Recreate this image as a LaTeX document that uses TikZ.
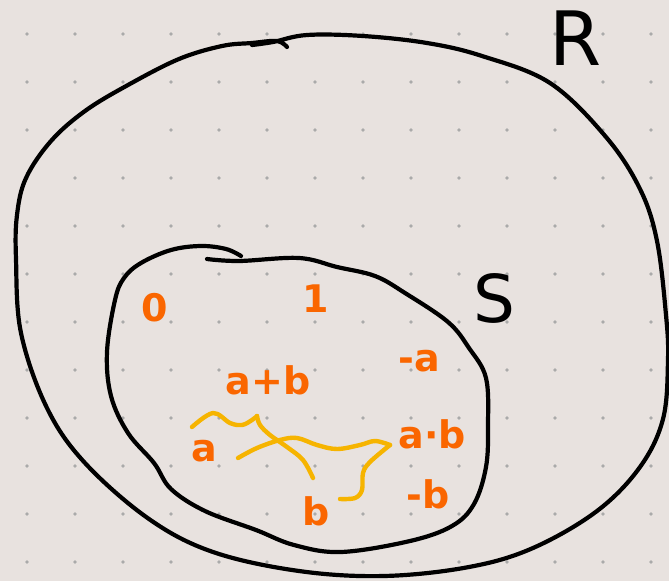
\documentclass[tikz,border=0pt]{standalone}
\usepackage{fontspec}
\newfontfamily\handfont{DejaVu Sans}
\definecolor{bgc}{RGB}{232,226,223}
\definecolor{dotc}{RGB}{170,170,170}
\definecolor{orng}{RGB}{250,102,0}
\definecolor{yllw}{RGB}{246,180,0}
\tikzset{
  outline/.style={black, line width=4.2pt, line cap=round, line join=round},
  squiggle/.style={yllw, line width=4.4pt, line cap=round, line join=round},
  elem/.style={text=orng, inner sep=0pt, font=\handfont\bfseries\fontsize{38}{42}\selectfont},
  setname/.style={text=black, inner sep=0pt, font=\handfont},
}
\begin{document}
\begin{tikzpicture}[x=1pt,y=-1pt]
\fill[bgc] (0,0) rectangle (669,581);
\useasboundingbox (0,0) rectangle (669,581);
% dot grid
\foreach \i in {0,...,13}{
  \foreach \j in {0,...,11}{
    \fill[dotc] ({27+48*\i},{34+48*\j}) circle (1.8);
  }
}
% outer set R
\draw[outline] plot[smooth, tension=0.6] coordinates {
 (252,45) (273,42) (307,35) (363,36) (427,43) (482,56) (550,83) (606,137)
 (640,189) (657,241) (666,315) (668,360) (663,419) (640,467) (597,511)
 (533,548) (469,567) (384,576) (299,571) (213,552) (149,519) (85,463)
 (47,408) (21,333) (16,259) (17,215) (26,178) (51,141) (85,111) (128,85)
 (179,59) (222,46) (252,43) (277,41) (287,47)};
% inner set S
\draw[outline] plot[smooth, tension=0.6] coordinates {
 (207,259) (239,261) (299,258) (337,267) (375,276) (405,293) (448,322)
 (469,348) (486,378) (488,426) (486,467) (474,504) (452,526) (410,541)
 (341,552) (294,545) (256,530) (205,511) (171,489) (154,463) (128,433)
 (111,396) (107,352) (115,300) (124,278) (141,263) (171,250) (201,246)
 (226,249) (241,256)};
% yellow squiggles
\draw[squiggle] plot[smooth, tension=0.6] coordinates {
 (192,427) (213,413) (230,423) (242,425) (252,420) (257,416)};
\draw[squiggle] plot[smooth, tension=0.6] coordinates {
 (257,416) (260,425) (270,435) (287,447) (303,460) (313,478)};
\draw[squiggle] plot[smooth, tension=0.6] coordinates {
 (238,458) (257,448) (280,440) (297,438) (317,445) (337,449) (360,445)
 (375,441) (390,445)};
\draw[squiggle] plot[smooth, tension=0.6] coordinates {
 (390,445) (370,462) (363,473) (362,490) (355,498) (340,499)};
% labels
\node[setname, font=\handfont\fontsize{75}{80}\selectfont] (R) at (576,38) {R};
\node[setname, font=\handfont\fontsize{66}{70}\selectfont] (S) at (494,298) {S};
\node[elem] (zero) at (155,308) {0};
\node[elem] (one) at (316,299) {1};
\node[elem] (apb) at (268,380) {a+b};
\node[elem] (nega) at (419,361) {-a};
\node[elem] (a) at (204,451) {a};
\node[elem] (atb) at (432,434) {a·b};
\node[elem] (b) at (316,511) {b};
\node[elem] (negb) at (428,494) {-b};
\end{tikzpicture}
\end{document}
